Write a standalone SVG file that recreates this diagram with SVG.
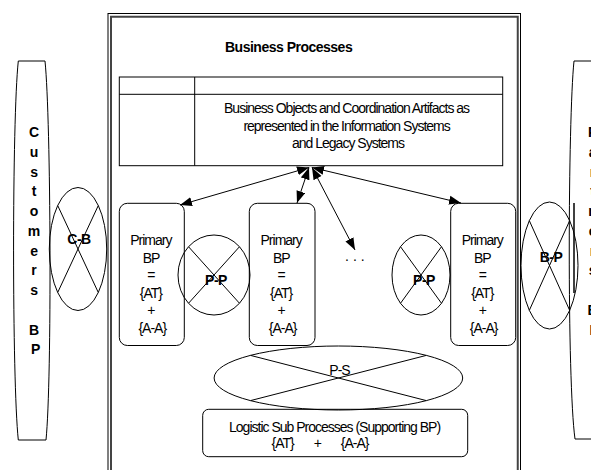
<svg xmlns="http://www.w3.org/2000/svg" width="591" height="470" viewBox="0 0 591 470">
  <defs>
    <style>
      .ln { fill: none; stroke: #000; stroke-width: 1; }
      .t { font-family: "Liberation Sans", Arial, sans-serif; font-size: 14px; letter-spacing: -1px; fill: #000; }
      .b { font-family: "Liberation Sans", Arial, sans-serif; font-size: 14px; font-weight: bold; letter-spacing: -0.5px; fill: #000; }
      .mid { text-anchor: middle; }
      .arrow { fill: none; stroke: #000; stroke-width: 1; marker-start: url(#head); marker-end: url(#head); }
    </style>
    <marker id="head" markerUnits="userSpaceOnUse" markerWidth="12" markerHeight="10" refX="12" refY="4.5" orient="auto-start-reverse" viewBox="0 0 12 9">
      <path d="M0,0 L12,4.5 L0,9 Z" fill="#000"/>
    </marker>
  </defs>

  <rect width="591" height="470" fill="#fff"/>

  <!-- outer double frame of the business process area -->
  <g id="frame">
    <rect x="108" y="13.5" width="412.5" height="500" class="ln"/>
    <rect x="111" y="16.75" width="406.75" height="500" fill="none" stroke="#444" stroke-width="2"/>
    <text x="225" y="52" class="b">Business Processes</text>
  </g>

  <!-- customers column -->
  <g id="customers">
    <path d="M18.3,61 L45,61 C51,120 52,380 46,440 L18.3,440 C12,380 12,120 18.3,61 Z" class="ln"/>
    <text class="b mid">
      <tspan x="35.5" y="137">C</tspan>
      <tspan x="35.5" y="156.75">u</tspan>
      <tspan x="35.5" y="176.5">s</tspan>
      <tspan x="35.5" y="196.25">t</tspan>
      <tspan x="35.5" y="216">o</tspan>
      <tspan x="35.5" y="235.75">m</tspan>
      <tspan x="35.5" y="255.5">e</tspan>
      <tspan x="35.5" y="275.25">r</tspan>
      <tspan x="35.5" y="295">s</tspan>
      <tspan x="35.5" y="334.5">B</tspan>
      <tspan x="35.5" y="354.25">P</tspan>
    </text>
  </g>

  <!-- partners column -->
  <g id="partners">
    <path d="M620,61 L574,61 C568,120 567,380 575,439 L620,439" class="ln"/>
    <line x1="574" y1="203" x2="574" y2="293" stroke="#000" stroke-width="1.5"/>
    <text class="b mid">
      <tspan x="594" y="137">P</tspan>
      <tspan x="594" y="156.75">a</tspan>
      <tspan x="594" y="176.5">r</tspan>
      <tspan x="594" y="196.25">t</tspan>
      <tspan x="594" y="216">n</tspan>
      <tspan x="594" y="235.75">e</tspan>
      <tspan x="594" y="255.5">r</tspan>
      <tspan x="594" y="275.25">s</tspan>
      <tspan x="594" y="314.75">B</tspan>
      <tspan x="594" y="334.5">P</tspan>
    </text>
  </g>

  <!-- shared business objects table -->
  <g id="objects">
    <rect x="119.3" y="77" width="383.4" height="88.7" class="ln"/>
    <line x1="119.3" y1="94.3" x2="502.7" y2="94.3" class="ln"/>
    <line x1="194.7" y1="77" x2="194.7" y2="165.7" class="ln"/>
    <text class="t mid">
      <tspan x="348" y="113.3">Business Objects and Coordination Artifacts as</tspan>
      <tspan x="348" y="130.7">represented in the Information Systems</tspan>
      <tspan x="348" y="148">and Legacy Systems</tspan>
    </text>
  </g>

  <!-- primary business processes -->
  <g id="primary1">
    <rect x="119.3" y="203.3" width="65" height="142.2" rx="8" class="ln"/>
    <text class="t mid">
      <tspan x="152.3" y="245">Primary</tspan>
      <tspan x="152.3" y="262.5">BP</tspan>
      <tspan x="152.3" y="280">=</tspan>
      <tspan x="152.3" y="297.5">{AT}</tspan>
      <tspan x="152.3" y="315">+</tspan>
      <tspan x="152.3" y="332.5">{A-A}</tspan>
    </text>
  </g>
  <g id="primary2">
    <rect x="249.3" y="203.3" width="65.7" height="142.2" rx="8" class="ln"/>
    <text class="t mid">
      <tspan x="282.6" y="245">Primary</tspan>
      <tspan x="282.6" y="262.5">BP</tspan>
      <tspan x="282.6" y="280">=</tspan>
      <tspan x="282.6" y="297.5">{AT}</tspan>
      <tspan x="282.6" y="315">+</tspan>
      <tspan x="282.6" y="332.5">{A-A}</tspan>
    </text>
  </g>
  <g id="more">
    <text x="345" y="261" class="t" style="letter-spacing:4px">...</text>
  </g>
  <g id="primary3">
    <rect x="450.7" y="203.3" width="65" height="142.2" rx="8" class="ln"/>
    <text class="t mid">
      <tspan x="483.7" y="245">Primary</tspan>
      <tspan x="483.7" y="262.5">BP</tspan>
      <tspan x="483.7" y="280">=</tspan>
      <tspan x="483.7" y="297.5">{AT}</tspan>
      <tspan x="483.7" y="315">+</tspan>
      <tspan x="483.7" y="332.5">{A-A}</tspan>
    </text>
  </g>

  <!-- interface ellipses -->
  <g id="cb">
    <ellipse cx="78" cy="249" rx="28.7" ry="61.5" class="ln"/>
    <path d="M57.7,205.5 L98.3,292.5 M98.3,205.5 L57.7,292.5" class="ln"/>
    <text x="79" y="244" class="b mid">C-B</text>
  </g>
  <g id="pp1">
    <ellipse cx="214" cy="275" rx="36" ry="40" class="ln"/>
    <path d="M188.5,246.7 L239.5,303.3 M239.5,246.7 L188.5,303.3" class="ln"/>
    <text x="216" y="284.5" class="b mid">P-P</text>
  </g>
  <g id="pp2">
    <ellipse cx="421" cy="275" rx="29" ry="40" class="ln"/>
    <path d="M400.5,246.7 L441.5,303.3 M441.5,246.7 L400.5,303.3" class="ln"/>
    <text x="424" y="285" class="b mid">P-P</text>
  </g>
  <g id="bp">
    <ellipse cx="549.5" cy="265.5" rx="28.5" ry="63.5" class="ln"/>
    <path d="M529.3,220.6 L569.7,310.4 M569.7,220.6 L529.3,310.4" class="ln"/>
    <text x="551" y="262" class="b mid">B-P</text>
  </g>
  <g id="ps">
    <ellipse cx="338.4" cy="378" rx="124.3" ry="32" class="ln"/>
    <path d="M250.5,355.4 L426.3,400.6 M426.3,355.4 L250.5,400.6" class="ln"/>
    <text x="339.5" y="375" class="t mid">P-S</text>
  </g>

  <!-- supporting processes -->
  <g id="logistic">
    <rect x="202.7" y="409.3" width="265" height="47.4" rx="6" class="ln"/>
    <text class="t mid">
      <tspan x="336" y="431.7">Logistic Sub Processes (Supporting BP)</tspan>
      <tspan x="320" y="448.3" style="word-spacing:17px">{AT} + {A-A}</tspan>
    </text>
  </g>

  <!-- links between the shared objects and the primary processes -->
  <g id="connectors">
    <line x1="309" y1="167.5" x2="180" y2="205" class="arrow"/>
    <line x1="309" y1="167.5" x2="297" y2="203" class="arrow"/>
    <line x1="312" y1="167.5" x2="355" y2="250" class="arrow"/>
    <line x1="312" y1="167.5" x2="461" y2="203" class="arrow"/>
  </g>
</svg>
